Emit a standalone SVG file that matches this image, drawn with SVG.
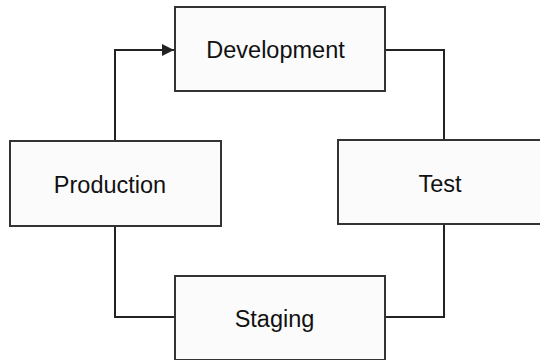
<svg xmlns="http://www.w3.org/2000/svg" width="540" height="360" viewBox="0 0 540 360">
<style>
.box{fill:#fbfbfb;stroke:#333;stroke-width:2}
.lbl{font-family:"Liberation Sans",Arial,sans-serif;font-size:23.5px;fill:#111;text-anchor:middle}
.edge{fill:none;stroke:#222;stroke-width:2}
</style>
<defs>
<marker id="arr" viewBox="0 0 10 10" refX="10" refY="5" markerWidth="6" markerHeight="6" markerUnits="strokeWidth" orient="auto">
<path d="M0,0 L10,5 L0,10 z" fill="#222"/>
</marker>
</defs>
<rect width="540" height="360" fill="#fff"/>
<g id="connectors">
<path class="edge" d="M115,141 V50 H174" marker-end="url(#arr)"/>
<path class="edge" d="M385,50 H444 V140"/>
<path class="edge" d="M444,224 V317 H385"/>
<path class="edge" d="M174,317 H115 V226"/>
</g>
<g id="development">
<rect class="box" x="175" y="7" width="210" height="84"/>
<text class="lbl" x="275.5" y="58">Development</text>
</g>
<g id="production">
<rect class="box" x="10" y="141" width="211" height="85"/>
<text class="lbl" x="110" y="192.5">Production</text>
</g>
<g id="test">
<rect class="box" x="338" y="140" width="210" height="84"/>
<text class="lbl" x="440" y="191.5">Test</text>
</g>
<g id="staging">
<rect class="box" x="175" y="276" width="210" height="84"/>
<text class="lbl" x="274.5" y="326.5">Staging</text>
</g>
</svg>
